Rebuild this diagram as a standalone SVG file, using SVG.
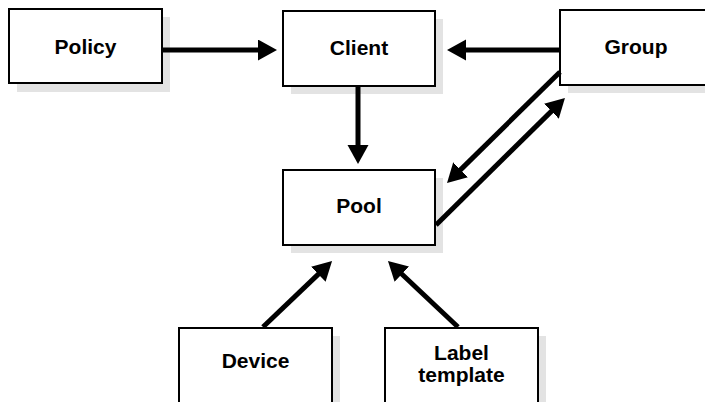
<svg xmlns="http://www.w3.org/2000/svg" width="705" height="402" viewBox="0 0 705 402">
<style>
.box{fill:#fff;stroke:#000;stroke-width:2}
.sh{fill:#e3e3e3}
.t{font-family:"Liberation Sans",Arial,sans-serif;font-weight:bold;font-size:21px;text-anchor:middle;fill:#000}
.c{stroke:#000;stroke-width:5;fill:none;marker-end:url(#ah)}
</style>
<defs>
<marker id="ah" markerUnits="userSpaceOnUse" markerWidth="20" markerHeight="22" refX="7" refY="10.5" orient="auto">
<path d="M0,0 L19,10.5 L0,21 z" fill="#000"/>
</marker>
</defs>
<rect width="705" height="402" fill="#fff"/>
<g id="policy">
<rect class="sh" x="17" y="17" width="153" height="75"/>
<rect class="box" x="9" y="9" width="153" height="74"/>
<text class="t" x="85.5" y="54">Policy</text>
</g>
<g id="client">
<rect class="sh" x="291" y="19" width="152" height="75"/>
<rect class="box" x="283" y="11" width="152" height="75"/>
<text class="t" x="359" y="55">Client</text>
</g>
<g id="group">
<rect class="sh" x="568" y="18" width="152" height="75"/>
<rect class="box" x="560" y="10" width="152" height="75"/>
<text class="t" x="636" y="54">Group</text>
</g>
<g id="pool">
<rect class="sh" x="291" y="178" width="152" height="75"/>
<rect class="box" x="283" y="170" width="152" height="75"/>
<text class="t" x="359" y="213">Pool</text>
</g>
<g id="device">
<rect class="sh" x="187" y="336" width="153" height="80"/>
<rect class="box" x="179" y="328" width="153" height="80"/>
<text class="t" x="255.5" y="368">Device</text>
</g>
<g id="label-template">
<rect class="sh" x="393" y="336" width="153" height="80"/>
<rect class="box" x="385" y="328" width="153" height="80"/>
<text class="t" x="461.5" y="360">Label</text>
<text class="t" x="461.5" y="382">template</text>
</g>
<g id="connectors">
<line class="c" x1="163" y1="50" x2="265" y2="50"/>
<line class="c" x1="559" y1="50" x2="459" y2="50"/>
<line class="c" x1="358" y1="87" x2="358" y2="152"/>
<line class="c" x1="560" y1="72" x2="455.6" y2="174.6"/>
<line class="c" x1="436" y1="225" x2="556.4" y2="106.4"/>
<line class="c" x1="263" y1="327" x2="323.4" y2="269.4"/>
<line class="c" x1="458" y1="327" x2="396.7" y2="269.3"/>
</g>
</svg>
